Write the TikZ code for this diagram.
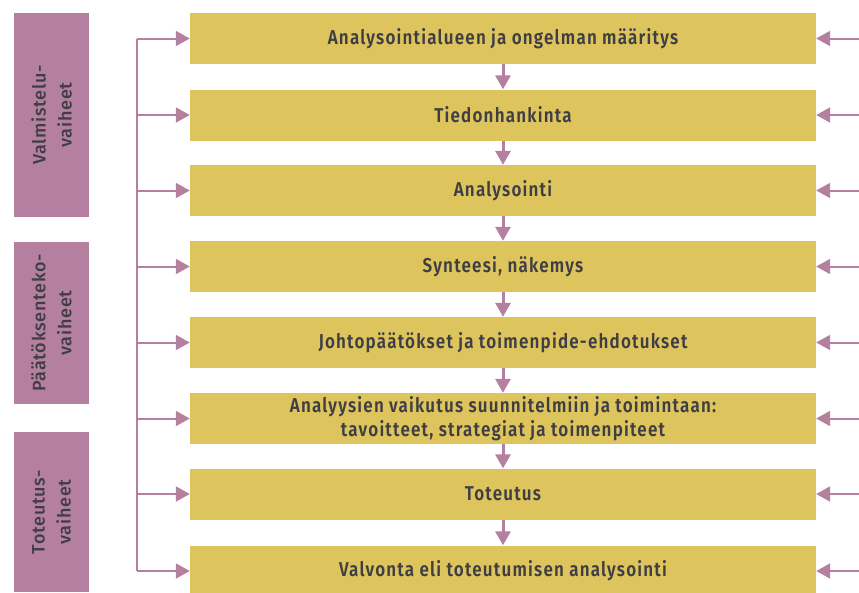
\documentclass[tikz,border=0pt]{standalone}
\usepackage{fontspec}
\setmainfont{Fira Sans}
\newfontfamily\boxfont[FakeStretch=0.85, LetterSpace=6]{Fira Sans SemiBold}
\newfontfamily\sidefont[LetterSpace=4]{Fira Sans Medium}
\usetikzlibrary{arrows.meta,positioning}
\definecolor{ochre}{RGB}{221,196,92}
\definecolor{mauve}{RGB}{181,128,160}
\definecolor{ink}{RGB}{62,62,68}
\tikzset{
  stage/.style={fill=ochre, text=ink, minimum width=626pt, minimum height=51pt, inner sep=0pt, align=center, font=\boxfont\fontsize{20}{24}\selectfont},
  phase/.style={fill=mauve, text=ink, rotate=90, minimum height=75pt, inner sep=0pt, align=center, font=\sidefont\fontsize{18}{26}\selectfont},
  flow/.style={-{Triangle[length=14pt,width=15pt]}, line width=3pt, color=mauve},
  feed/.style={-{Triangle[length=14pt,width=15pt]}, line width=2pt, color=mauve},
}
\begin{document}
\begin{tikzpicture}[x=1pt, y=-1pt]
\useasboundingbox (0,0) rectangle (859,592);
\node[phase, minimum width=204pt] (P1) at (51.5,115) {Valmistelu-\\vaiheet};
\node[phase, minimum width=162pt] (P2) at (51.5,323) {Päätöksenteko-\\vaiheet};
\node[phase, minimum width=160pt] (P3) at (51.5,512) {Toteutus-\\vaiheet};
\node[stage] (b1) at (503,38.5) {Analysointialueen ja ongelman määritys};
\node[stage] (b2) at (503,115) {Tiedonhankinta};
\node[stage] (b3) at (503,190.5) {Analysointi};
\node[stage] (b4) at (503,266.5) {Synteesi, näkemys};
\node[stage] (b5) at (503,342.5) {Johtopäätökset ja toimenpide-ehdotukset};
\node[stage] (b6) at (503,418.5) {Analyysien vaikutus suunnitelmiin ja toimintaan:\\tavoitteet, strategiat ja toimenpiteet};
\node[stage] (b7) at (503,494) {Toteutus};
\node[stage] (b8) at (503,571) {Valvonta eli toteutumisen analysointi};
\coordinate (spine) at (137,0);
\coordinate (rim) at (859,0);
\draw [flow] (b1) -- (b2);
\draw [flow] (b2) -- (b3);
\draw [flow] (b3) -- (b4);
\draw [flow] (b4) -- (b5);
\draw [flow] (b5) -- (b6);
\draw [flow] (b6) -- (b7);
\draw [flow] (b7) -- (b8);
\draw [line width=2pt, color=mauve] (spine |- b1.west) -- (spine |- b8.west);
\draw [feed] (spine |- b1.west) -- (b1.west);
\draw [feed] (spine |- b2.west) -- (b2.west);
\draw [feed] (spine |- b3.west) -- (b3.west);
\draw [feed] (spine |- b4.west) -- (b4.west);
\draw [feed] (spine |- b5.west) -- (b5.west);
\draw [feed] (spine |- b6.west) -- (b6.west);
\draw [feed] (spine |- b7.west) -- (b7.west);
\draw [feed] (spine |- b8.west) -- (b8.west);
\draw [feed] (rim |- b1.east) -- (b1.east);
\draw [feed] (rim |- b2.east) -- (b2.east);
\draw [feed] (rim |- b3.east) -- (b3.east);
\draw [feed] (rim |- b4.east) -- (b4.east);
\draw [feed] (rim |- b5.east) -- (b5.east);
\draw [feed] (rim |- b6.east) -- (b6.east);
\draw [feed] (rim |- b7.east) -- (b7.east);
\draw [feed] (rim |- b8.east) -- (b8.east);
\end{tikzpicture}
\end{document}
